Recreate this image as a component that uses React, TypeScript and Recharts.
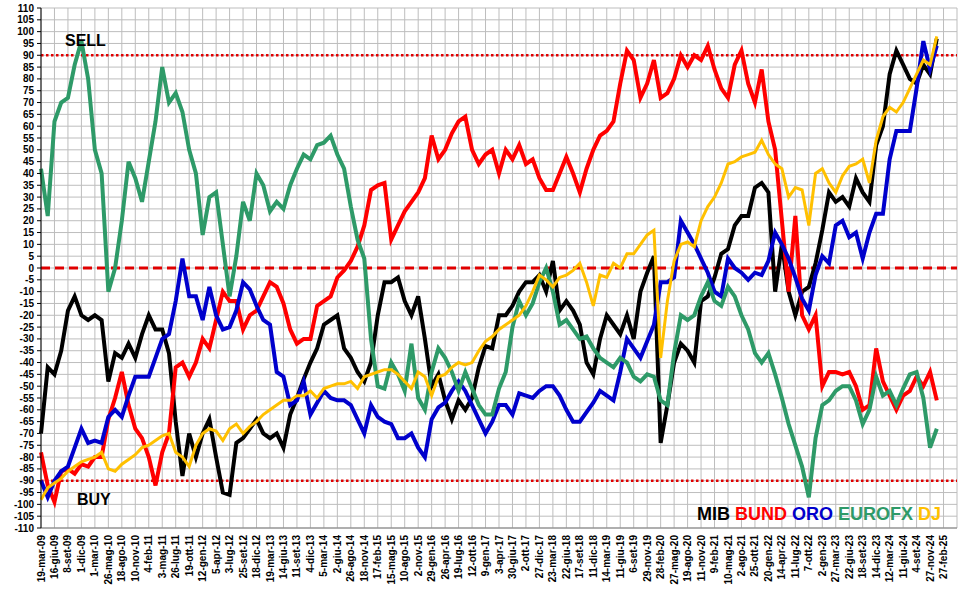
import React from "react";
import { LineChart, Line, XAxis, YAxis, CartesianGrid, ReferenceLine } from "recharts";

// date labels on the x axis (one per vertical grid line)
const labels = [
  "19-mar-09", "16-giu-09", "8-set-09", "1-dic-09", "1-mar-10", "26-mag-10", "18-ago-10", "10-nov-10",
  "4-feb-11", "3-mag-11", "26-lug-11", "19-ott-11", "12-gen-12", "5-apr-12", "3-lug-12", "25-set-12",
  "18-dic-12", "19-mar-13", "14-giu-13", "11-set-13", "4-dic-13", "5-mar-14", "2-giu-14", "26-ago-14",
  "18-nov-14", "17-feb-15", "15-mag-15", "10-ago-15", "2-nov-15", "29-gen-16", "26-apr-16", "19-lug-16",
  "12-ott-16", "9-gen-17", "3-apr-17", "30-giu-17", "2-ott-17", "27-dic-17", "23-mar-18", "22-giu-18",
  "17-set-18", "11-dic-18", "14-mar-19", "11-giu-19", "6-set-19", "29-nov-19", "28-feb-20", "27-mag-20",
  "19-ago-20", "11-nov-20", "9-feb-21", "10-mag-21", "2-ago-21", "25-ott-21", "20-gen-22", "14-apr-22",
  "11-lug-22", "7-ott-22", "2-gen-23", "27-mar-23", "22-giu-23", "18-set-23", "14-dic-23", "12-mar-24",
  "11-giu-24", "4-set-24", "27-nov-24", "27-feb-25",
];

// values every half label interval, starting at 19-mar-09
const mib = [
  -70, -42, -45, -35, -18, -12, -20, -22, -20, -22, -48, -36, -38, -32, -38, -28, -20, -26, -26, -36,
  -65, -88, -70, -80, -70, -64, -80, -95, -96, -74, -72, -68, -64, -70, -72, -70, -76, -62, -55, -47,
  -40, -34, -24, -22, -20, -34, -38, -44, -48, -40, -20, -6, -6, -4, -14, -20, -12, -30, -50, -45,
  -56, -64, -56, -60, -55, -42, -33, -34, -20, -20, -16, -10, -6, -6, -3, -10, 3, -18, -14, -18,
  -24, -40, -45, -30, -20, -24, -28, -20, -30, -10, -2, 5, -74, -58, -40, -32, -35, -40, -14, -12,
  -4, 6, 8, 18, 22, 22, 34, 36, 32, -10, 10, -10, -20, -10, -8, 2, 16, 32, 28, 30,
  26, 38, 32, 28, 52, 60, 82, 92, 86, 80, 78, 86, 82, 97,
];
const bund = [
  -78, -92, -99, -86, -85, -87, -83, -84, -80, -80, -64, -55, -44, -58, -68, -72, -80, -92, -78, -70,
  -42, -40, -46, -40, -30, -34, -22, -10, -14, -14, -26, -20, -18, -12, -6, -8, -15, -26, -32, -30,
  -30, -16, -14, -12, -4, -1, 3, 9, 18, 33, 35, 36, 12, 18, 24, 28, 32, 38, 56, 46,
  50, 57, 62, 64, 50, 44, 48, 50, 40, 50, 46, 52, 44, 46, 38, 33, 33, 40, 47, 40,
  32, 42, 50, 56, 58, 62, 78, 92, 88, 72, 78, 88, 72, 74, 80, 90, 85, 90, 88, 94,
  84, 76, 72, 86, 92, 78, 70, 84, 62, 50, 20, -10, 22, -20, -26, -20, -50, -44, -44, -45,
  -44, -50, -60, -58, -34, -48, -54, -60, -54, -52, -46, -50, -44, -56,
];
const oro = [
  -90, -97, -90, -86, -84, -76, -68, -74, -73, -74, -63, -60, -63, -54, -46, -46, -46, -38, -30, -28,
  -14, 4, -12, -12, -22, -8, -20, -26, -25, -18, -6, -9, -16, -22, -24, -44, -46, -58, -56, -48,
  -62, -57, -52, -55, -56, -56, -58, -64, -70, -58, -63, -65, -66, -72, -72, -70, -76, -80, -64, -59,
  -57, -52, -48, -52, -58, -64, -70, -65, -58, -58, -62, -53, -54, -55, -52, -50, -50, -54, -60, -65,
  -65, -61, -57, -52, -54, -56, -44, -30, -34, -38, -31, -24, -6, -6, -4, 20, 15, 10, 4, -2,
  -10, -12, 4, 0, -2, -5, -2, -3, 3, 15, 10, 4, -4, -13, -18, -3, 5, 2, 18, 20,
  13, 15, 4, 15, 23, 23, 46, 58, 58, 58, 76, 96, 84, 94,
];
const eurofx = [
  42, 22, 62, 70, 72, 86, 96, 80, 50, 40, -10, 0, 20, 45, 38, 28, 45, 62, 85, 70,
  74, 66, 50, 40, 14, 30, 32, 10, -12, 5, 28, 20, 40, 35, 24, 28, 25, 35, 42, 48,
  46, 52, 53, 56, 48, 42, 26, 12, 4, -30, -50, -51, -40, -45, -52, -32, -55, -60, -44, -34,
  -38, -44, -52, -44, -51, -58, -62, -62, -51, -44, -25, -14, -20, -15, -6, 0, -10, -24, -22, -26,
  -30, -29, -34, -38, -40, -42, -38, -40, -46, -48, -45, -46, -56, -58, -36, -20, -22, -20, -12, -6,
  -14, -16, -8, -12, -20, -26, -36, -40, -36, -45, -55, -66, -75, -84, -97, -72, -58, -56, -52, -50,
  -50, -56, -66, -60, -46, -54, -52, -58, -51, -45, -44, -55, -76, -68,
];
const dj = [
  -98, -93, -91, -89, -86, -84, -82, -81, -80, -78, -85, -86, -83, -81, -79, -76, -75, -73, -71, -70,
  -78, -80, -84, -75, -70, -68, -69, -73, -68, -66, -70, -67, -65, -62, -60, -58, -56, -56, -54, -54,
  -52, -55, -51, -50, -49, -49, -48, -51, -46, -45, -44, -43, -43, -45, -48, -51, -44, -46, -54, -46,
  -45, -42, -40, -41, -40, -35, -31, -29, -26, -24, -22, -20, -16, -10, -3, -5, -8, -4, -3, -1,
  2, -6, -16, -3, -4, 2, 0, 6, 6, 10, 14, 16, -38, -14, 3, 10, 11, 9, 20, 26,
  30, 36, 44, 45, 47, 48, 49, 54, 48, 44, 42, 30, 34, 33, 18, 40, 42, 36, 32, 39,
  43, 44, 46, 36, 54, 64, 68, 66, 70, 76, 82, 88, 86, 98,
];

const yTicks = Array.from({ length: 45 }, (_, i) => -110 + i * 5);
const xTicks = Array.from({ length: 69 }, (_, i) => i);

const rows = mib.map((v, i) => ({
  n: i / 2,
  MIB: v,
  BUND: bund[i],
  ORO: oro[i],
  EUROFX: eurofx[i],
  DJ: dj[i],
}));

const FONT = "'Liberation Sans', Arial, sans-serif";

function XTick(props: any) {
  const { x, y, payload } = props;
  const label = labels[payload.value] ?? "";
  const ty = y - 1;
  return (
    <text
      x={x}
      y={ty}
      transform={`rotate(-90 ${x} ${ty})`}
      textAnchor="end"
      dy="0.35em"
      fontSize={10}
      fontWeight="bold"
      fontFamily={FONT}
      fill="#000"
    >
      {label}
    </text>
  );
}

export default function App() {
  return (
    <div style={{ position: "absolute", left: 0, top: 0, width: 966, height: 589, background: "#fff" }}>
      <LineChart width={966} height={589} data={rows} margin={{ top: 8, right: 9, bottom: 0, left: 0 }}>
        <CartesianGrid stroke="#BDBDBD" strokeWidth={1} />
        <XAxis
          dataKey="n"
          type="number"
          domain={[0, 68]}
          ticks={xTicks}
          interval={0}
          height={61}
          tick={<XTick />}
          tickLine={false}
          axisLine={{ stroke: "#808080" }}
        />
        <YAxis
          type="number"
          domain={[-110, 110]}
          ticks={yTicks}
          interval={0}
          width={41}
          tickSize={4}
          tickMargin={3}
          tickLine={{ stroke: "#000" }}
          axisLine={{ stroke: "#000" }}
          tick={{ fontSize: 10, fontWeight: "bold", fill: "#000", fontFamily: FONT }}
        />
        <ReferenceLine y={90} stroke="#E00000" strokeWidth={2.5} strokeDasharray="2.5 2.5" />
        <ReferenceLine y={-90} stroke="#E00000" strokeWidth={2.5} strokeDasharray="2.5 2.5" />
        <ReferenceLine y={0} stroke="#E00000" strokeWidth={3} strokeDasharray="9 5" />
        <Line dataKey="MIB" stroke="#000000" strokeWidth={4} dot={false} isAnimationActive={false} />
        <Line dataKey="BUND" stroke="#FF0000" strokeWidth={4} dot={false} isAnimationActive={false} />
        <Line dataKey="ORO" stroke="#0000CC" strokeWidth={4} dot={false} isAnimationActive={false} />
        <Line dataKey="EUROFX" stroke="#2E9A68" strokeWidth={4} dot={false} isAnimationActive={false} />
        <Line dataKey="DJ" stroke="#FFC000" strokeWidth={3} dot={false} isAnimationActive={false} />
      </LineChart>
      <div style={{ position: "absolute", left: 65, top: 33, fontFamily: FONT, fontWeight: "bold", fontSize: 16, lineHeight: 1, color: "#000" }}>
        SELL
      </div>
      <div style={{ position: "absolute", left: 77, top: 492, fontFamily: FONT, fontWeight: "bold", fontSize: 16, lineHeight: 1, color: "#000" }}>
        BUY
      </div>
      <div style={{ position: "absolute", left: 697, top: 505, fontFamily: FONT, fontWeight: "bold", fontSize: 18, lineHeight: 1, whiteSpace: "nowrap" }}>
        <span style={{ color: "#000" }}>MIB </span>
        <span style={{ color: "#FF0000" }}>BUND </span>
        <span style={{ color: "#0000CC" }}>ORO </span>
        <span style={{ color: "#2E9A68" }}>EUROFX </span>
        <span style={{ color: "#FFC000" }}>DJ</span>
      </div>
    </div>
  );
}
